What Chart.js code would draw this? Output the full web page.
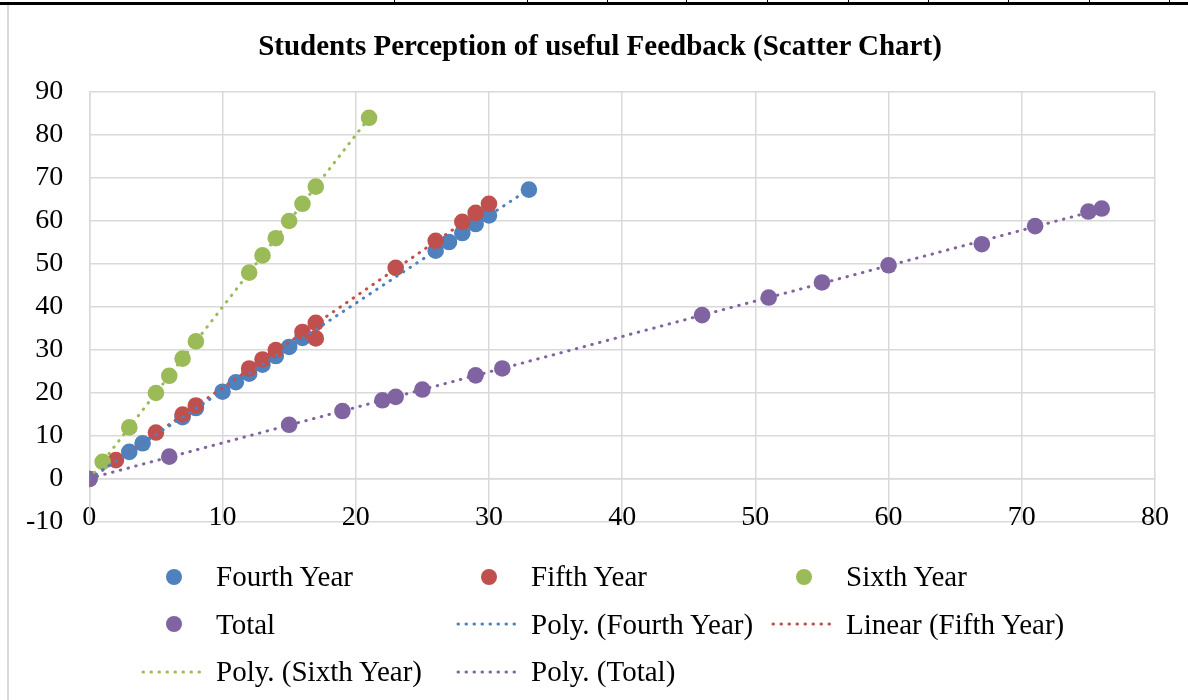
<!DOCTYPE html>
<html>
<head>
<meta charset="utf-8">
<script src="https://cdn.jsdelivr.net/npm/chart.js"></script>
<style>
    body { margin: 0; background: #fff; }
    #page { position: relative; width: 1188px; height: 700px; overflow: hidden; font-family: "Liberation Serif", "Times New Roman", serif; }
    #topRule { position: absolute; left: 0; top: 2px; width: 1188px; height: 3px; background: #000; }
    .cellTick { position: absolute; top: 0; width: 1px; height: 3px; background: #000; }
    #leftRule { position: absolute; left: 7px; top: 5px; width: 2px; height: 695px; background: #d9d9d9; }
    #canvas { position: absolute; left: 0; top: 0; }
    #title { position: absolute; left: 100px; width: 1000px; top: 28px; text-align: center; font-size: 29px; font-weight: bold; line-height: 34px; color: #000; }
    #legend { position: absolute; left: 140px; top: 553px; display: grid; grid-template-columns: 315px 315px 315px; grid-auto-rows: 47.5px; }
    .item { display: flex; align-items: center; font-size: 29px; color: #000; white-space: nowrap; }
    .symbol { width: 68px; height: 20px; margin-right: 8px; display: flex; align-items: center; justify-content: center; }
    .dot { width: 16px; height: 16px; border-radius: 50%; }
</style>
</head>
<body>
<div id="page">
    <canvas id="canvas" width="1188" height="700"></canvas>
    <div id="topRule"></div>
    <div id="leftRule"></div>
    <div id="title"></div>
    <div id="legend"></div>
</div>
<script>
const chartTitle = 'Students Perception of useful Feedback (Scatter Chart)';

const seriesNames = ['Fourth Year', 'Fifth Year', 'Sixth Year', 'Total'];
const seriesColors = ['#4F81BD', '#C0504D', '#9BBB59', '#8064A2'];

const fourthX = [0, 3, 4, 7, 8, 10, 11, 12, 13, 14, 15, 16, 26, 27, 28, 29, 30, 33];
const fourthY = [0, 6.3, 8.3, 14.4, 16.5, 20.3, 22.5, 24.5, 26.6, 28.6, 30.7, 32.8, 53.1, 55.1, 57.2, 59.3, 61.3, 67.3];

const fifthX = [0, 2, 5, 7, 8, 12, 13, 14, 16, 17, 17, 23, 26, 28, 29, 30];
const fifthY = [0, 4.4, 10.8, 15.0, 17.1, 25.7, 27.8, 30.0, 34.2, 36.3, 32.7, 49.1, 55.4, 59.8, 61.9, 64.0];

const sixthX = [0, 1, 3, 5, 6, 7, 8, 12, 13, 14, 15, 16, 17, 21];
const sixthY = [0, 4, 12, 20, 24, 28, 32, 48, 52, 56, 60, 64, 68, 84];

const totalX = [0, 6, 15, 19, 22, 23, 25, 29, 31, 46, 51, 55, 60, 67, 71, 75, 76];
const totalY = [0, 5.2, 12.6, 15.8, 18.3, 19.1, 20.8, 24.1, 25.7, 38.1, 42.2, 45.7, 49.7, 54.6, 58.8, 62.2, 62.9];

// trendline type per series: 2 = polynomial (order 2), 1 = linear
const trendOrders = [2, 1, 2, 2];
const trendPrefixes = ['Poly.', 'Linear', 'Poly.', 'Poly.'];

const xTicks = [0, 10, 20, 30, 40, 50, 60, 70, 80];
const yTicks = [-10, 0, 10, 20, 30, 40, 50, 60, 70, 80, 90];

// x positions of the little cell dividers on the document rule above the chart
const cellTicks = [394, 527, 607, 686, 767, 848, 928, 1008, 1089, 1169];

document.addEventListener('DOMContentLoaded', () => {
    const page = document.getElementById('page');
    cellTicks.forEach(x => {
        const t = document.createElement('div');
        t.className = 'cellTick';
        t.style.left = x + 'px';
        page.appendChild(t);
    });
    document.getElementById('title').textContent = chartTitle;

    const xs = [fourthX, fifthX, sixthX, totalX];
    const ys = [fourthY, fifthY, sixthY, totalY];

    // least squares fit, like the spreadsheet trendline
    function fitCoeffs(x, y, order) {
        const n = order + 1;
        const m = [];
        for (let r = 0; r < n; r++) {
            m.push([]);
            for (let c = 0; c < n; c++) {
                m[r].push(x.reduce((s, v) => s + Math.pow(v, r + c), 0));
            }
            m[r].push(x.reduce((s, v, i) => s + Math.pow(v, r) * y[i], 0));
        }
        for (let i = 0; i < n; i++) {
            for (let k = i + 1; k < n; k++) {
                const f = m[k][i] / m[i][i];
                for (let c = i; c <= n; c++) m[k][c] -= f * m[i][c];
            }
        }
        const a = new Array(n).fill(0);
        for (let i = n - 1; i >= 0; i--) {
            let s = m[i][n];
            for (let c = i + 1; c < n; c++) s -= m[i][c] * a[c];
            a[i] = s / m[i][i];
        }
        return a;
    }

    function trendPoints(x, y, order) {
        const a = fitCoeffs(x, y, order);
        const lo = Math.min(...x);
        const hi = Math.max(...x);
        const pts = [];
        const steps = 60;
        for (let i = 0; i <= steps; i++) {
            const xv = lo + (hi - lo) * i / steps;
            pts.push({ x: xv, y: a.reduce((s, c, p) => s + c * Math.pow(xv, p), 0) });
        }
        return pts;
    }

    const datasets = [];
    seriesNames.forEach((name, i) => {
        datasets.push({
            label: name,
            data: xs[i].map((x, j) => ({ x: x, y: ys[i][j] })),
            backgroundColor: seriesColors[i],
            borderColor: seriesColors[i],
            pointRadius: 8.3,
            pointHoverRadius: 8.3,
            pointBorderWidth: 0,
            showLine: false,
            order: 4 - i
        });
    });
    seriesNames.forEach((name, i) => {
        datasets.push({
            label: trendPrefixes[i] + ' (' + name + ')',
            data: trendPoints(xs[i], ys[i], trendOrders[i]),
            borderColor: seriesColors[i],
            backgroundColor: seriesColors[i],
            borderWidth: 3,
            borderDash: [0.5, 7.5],
            borderCapStyle: 'round',
            pointRadius: 0,
            showLine: true,
            fill: false,
            tension: 0,
            order: 0
        });
    });

    const tickFont = { family: 'Liberation Serif', size: 28 };

    new Chart(document.getElementById('canvas').getContext('2d'), {
        type: 'scatter',
        data: { datasets: datasets },
        options: {
            responsive: false,
            animation: false,
            layout: { padding: { left: 0, right: 33, top: 92, bottom: 178 } },
            plugins: {
                legend: { display: false },
                tooltip: { enabled: false }
            },
            scales: {
                x: {
                    type: 'linear',
                    position: { y: 0 },
                    min: xTicks[0],
                    max: xTicks[xTicks.length - 1],
                    afterBuildTicks: axis => { axis.ticks = xTicks.map(v => ({ value: v })); },
                    // keep the last label overhang from shrinking the plot
                    afterFit: axis => { axis.paddingRight = 0; axis.paddingLeft = 0; },
                    ticks: { color: '#000', font: tickFont, padding: 22, maxRotation: 0 },
                    grid: { color: '#d9d9d9', lineWidth: 1.5, drawTicks: false },
                    border: { color: '#d9d9d9', width: 1.5 }
                },
                y: {
                    type: 'linear',
                    min: yTicks[0],
                    max: yTicks[yTicks.length - 1],
                    afterBuildTicks: axis => { axis.ticks = yTicks.map(v => ({ value: v })); },
                    ticks: { color: '#000', font: tickFont, padding: 26 },
                    grid: { color: '#d9d9d9', lineWidth: 1.5, drawTicks: false },
                    border: { color: '#d9d9d9', width: 1.5 }
                }
            }
        }
    });

    // legend laid out as a 3 column grid, like the original
    const legend = document.getElementById('legend');
    datasets.forEach(ds => {
        const item = document.createElement('div');
        item.className = 'item';
        const sym = document.createElement('span');
        sym.className = 'symbol';
        if (ds.showLine) {
            sym.innerHTML = '<svg width="68" height="8"><line x1="3" y1="4" x2="66" y2="4" stroke="' + ds.borderColor +
                '" stroke-width="3" stroke-linecap="round" stroke-dasharray="0.5 7.5"/></svg>';
        } else {
            const dot = document.createElement('span');
            dot.className = 'dot';
            dot.style.background = ds.backgroundColor;
            sym.appendChild(dot);
        }
        item.appendChild(sym);
        const txt = document.createElement('span');
        txt.textContent = ds.label;
        item.appendChild(txt);
        legend.appendChild(item);
    });
});
</script>
</body>
</html>
